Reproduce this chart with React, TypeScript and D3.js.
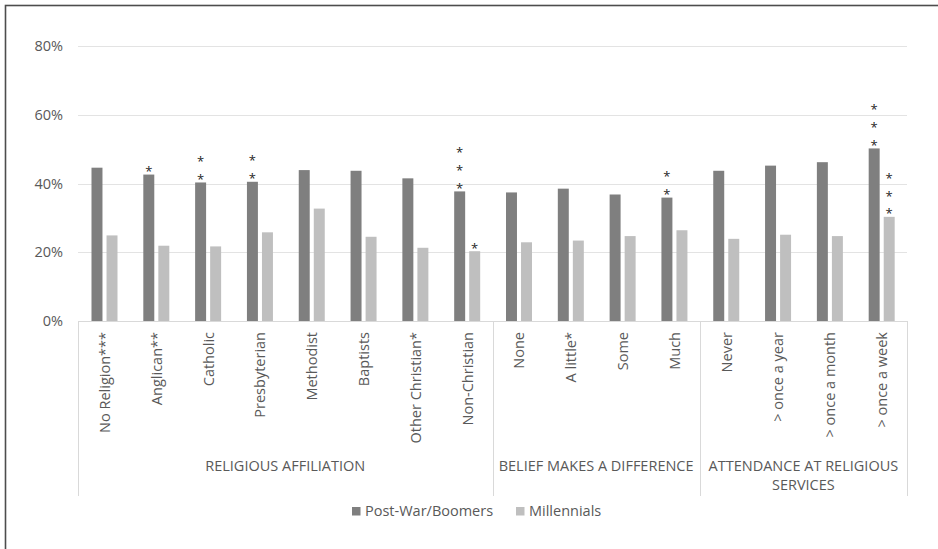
import * as d3 from 'd3';
import { useEffect, useRef } from 'react';

const categories = [
    'No Religion***', 'Anglican**', 'Catholic', 'Presbyterian', 'Methodist', 'Baptists',
    'Other Christian*', 'Non-Christian', 'None', 'A little*', 'Some', 'Much',
    'Never', '> once a year', '> once a month', '> once a week',
];
const groups = [
    { lines: ['RELIGIOUS AFFILIATION'], count: 8 },
    { lines: ['BELIEF MAKES A DIFFERENCE'], count: 4 },
    { lines: ['ATTENDANCE AT RELIGIOUS', 'SERVICES'], count: 4 },
];
const seriesNames = ['Post-War/Boomers', 'Millennials'];
const boomers = [44.6, 42.6, 40.3, 40.5, 43.9, 43.7, 41.5, 37.7, 37.4, 38.5, 36.8, 35.9, 43.7, 45.2, 46.2, 50.2];
const millennials = [24.9, 21.9, 21.7, 25.8, 32.7, 24.5, 21.3, 20.3, 22.9, 23.4, 24.7, 26.4, 23.9, 25.1, 24.7, 30.3];
const boomerStars = [0, 1, 2, 2, 0, 0, 0, 3, 0, 0, 0, 2, 0, 0, 0, 3];
const millennialStars = [0, 0, 0, 0, 0, 0, 0, 1, 0, 0, 0, 0, 0, 0, 0, 3];
const yTicks = [0, 20, 40, 60, 80];

const colors = ['#7f7f7f', '#bfbfbf'];
const FONT = '"Open Sans", "Noto Sans", sans-serif';
const FS = 14.5;

const W = 938;
const H = 549;

const App = () => {
    const svgRef = useRef<SVGSVGElement | null>(null);

    useEffect(() => {
        if (!svgRef.current) return;
        document.body.style.margin = '0';
        const svg = d3.select(svgRef.current);
        svg.selectAll('*').remove();

        const left = 78;
        const right = 907;
        const top = 46;
        const bottom = 321;
        const axisBottom = 496;

        const x0 = d3.scaleBand<string>().domain(categories).range([left, right]).padding(0);
        const x1 = d3.scaleBand<string>().domain(seriesNames).range([13.5, 39.5]).paddingInner(0.27);
        const y = d3.scaleLinear().domain([0, 80]).range([bottom, top]);

        svg.append('rect').attr('width', W).attr('height', H).attr('fill', '#ffffff');

        // outer frame (only top/left visible in the crop)
        svg.append('rect')
            .attr('x', 5.5).attr('y', 5.5)
            .attr('width', W + 10).attr('height', H + 10)
            .attr('fill', 'none').attr('stroke', '#4d4d4d').attr('stroke-width', 1.6);

        // gridlines
        svg.append('g')
            .selectAll('line')
            .data(yTicks.filter((t) => t > 0))
            .join('line')
            .attr('x1', left).attr('x2', right)
            .attr('y1', (d) => Math.round(y(d)) + 0.5).attr('y2', (d) => Math.round(y(d)) + 0.5)
            .attr('stroke', '#e3e3e3');

        // y tick labels
        svg.append('g')
            .selectAll('text')
            .data(yTicks)
            .join('text')
            .attr('x', 63)
            .attr('y', (d) => y(d))
            .attr('dy', '0.35em')
            .attr('text-anchor', 'end')
            .attr('font-family', FONT)
            .attr('font-size', FS)
            .attr('fill', '#595959')
            .text((d) => `${d}%`);

        // bars
        const seriesData = [boomers, millennials];
        const starData = [boomerStars, millennialStars];
        seriesData.forEach((vals, si) => {
            const g = svg.append('g');
            g.selectAll('rect')
                .data(vals)
                .join('rect')
                .attr('x', (_, i) => x0(categories[i])! + x1(seriesNames[si])!)
                .attr('y', (d) => y(d))
                .attr('width', x1.bandwidth())
                .attr('height', (d) => bottom - y(d))
                .attr('fill', colors[si]);

            // significance stars
            vals.forEach((v, i) => {
                const n = starData[si][i];
                for (let k = 0; k < n; k++) {
                    const cy = y(v) - 6 - k * 17.8;
                    g.append('text')
                        .attr('x', x0(categories[i])! + x1(seriesNames[si])! + x1.bandwidth() / 2)
                        .attr('y', cy + 7.5)
                        .attr('text-anchor', 'middle')
                        .attr('font-family', FONT)
                        .attr('font-size', 13)
                        .attr('fill', '#262626')
                        .text('*');
                }
            });
        });

        // category axis
        svg.append('line')
            .attr('x1', left).attr('x2', right)
            .attr('y1', bottom + 0.5).attr('y2', bottom + 0.5)
            .attr('stroke', '#d9d9d9');

        let idx = 0;
        const seps = [left];
        groups.forEach((gr) => {
            idx += gr.count;
            seps.push(idx >= categories.length ? right : x0(categories[idx])!);
        });
        svg.append('g')
            .selectAll('line')
            .data(seps)
            .join('line')
            .attr('x1', (d) => Math.round(d) + 0.5).attr('x2', (d) => Math.round(d) + 0.5)
            .attr('y1', bottom).attr('y2', axisBottom)
            .attr('stroke', '#d9d9d9');

        // category labels
        svg.append('g')
            .selectAll('text')
            .data(categories)
            .join('text')
            .attr('transform', (d) => `translate(${x0(d)! + x0.bandwidth() / 2 + 6},${bottom + 11}) rotate(-90)`)
            .attr('text-anchor', 'end')
            .attr('font-family', FONT)
            .attr('font-size', FS)
            .attr('fill', '#595959')
            .text((d) => d);

        // group labels
        groups.forEach((gr, gi) => {
            const cx = (seps[gi] + seps[gi + 1]) / 2;
            gr.lines.forEach((line, li) => {
                svg.append('text')
                    .attr('x', cx)
                    .attr('y', 466 + li * 19)
                    .attr('dy', '0.35em')
                    .attr('text-anchor', 'middle')
                    .attr('font-family', FONT)
                    .attr('font-size', FS)
                    .attr('fill', '#595959')
                    .text(line);
            });
        });

        // legend
        const legendX = [352, 516];
        seriesNames.forEach((name, si) => {
            svg.append('rect')
                .attr('x', legendX[si]).attr('y', 507)
                .attr('width', 8.5).attr('height', 8.5)
                .attr('fill', colors[si]);
            svg.append('text')
                .attr('x', legendX[si] + 13)
                .attr('y', 511)
                .attr('dy', '0.35em')
                .attr('font-family', FONT)
                .attr('font-size', FS)
                .attr('fill', '#595959')
                .text(name);
        });
    }, []);

    return <svg ref={svgRef} width={W} height={H} style={{ display: 'block', position: 'absolute', left: 0, top: 0 }} />;
};

export default App;
